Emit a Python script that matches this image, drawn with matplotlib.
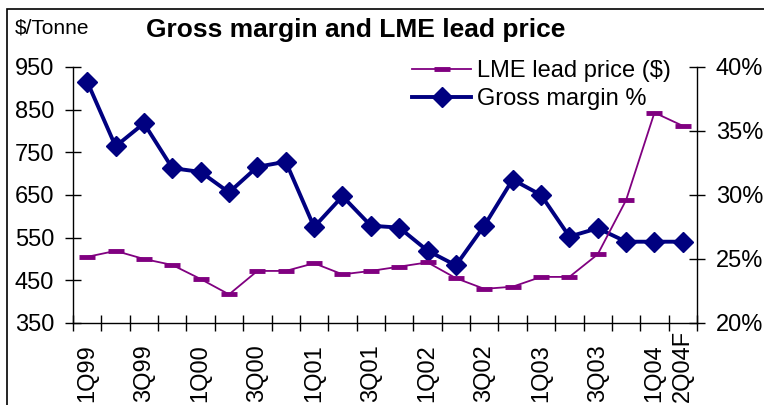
import matplotlib.pyplot as plt
from matplotlib.lines import Line2D
from matplotlib.patches import Rectangle

plt.rcParams['font.family'] = ['Liberation Sans', 'DejaVu Sans']

quarters = ["1Q99", "2Q99", "3Q99", "4Q99", "1Q00", "2Q00", "3Q00", "4Q00",
            "1Q01", "2Q01", "3Q01", "4Q01", "1Q02", "2Q02", "3Q02", "4Q02",
            "1Q03", "2Q03", "3Q03", "4Q03", "1Q04", "2Q04F"]
lead_price = [505, 519, 500, 486, 453, 417, 472, 472,
              490, 464, 472, 482, 492, 455, 430, 435,
              458, 458, 511, 638, 843, 812]
gross_margin = [38.85, 33.8, 35.6, 32.1, 31.8, 30.2, 32.2, 32.6,
                27.5, 29.9, 27.6, 27.45, 25.65, 24.5, 27.6, 31.2,
                30.0, 26.75, 27.4, 26.35, 26.35, 26.35]
shown_labels = ["1Q99", "3Q99", "1Q00", "3Q00", "1Q01", "3Q01", "1Q02",
                "3Q02", "1Q03", "3Q03", "1Q04", "2Q04F"]

PURPLE = "#800080"
NAVY = "#000080"

fig = plt.figure(figsize=(7.64, 4.05), dpi=100)
ax = fig.add_axes([0.0956, 0.2025, 0.8167, 0.6321])
ax2 = ax.twinx()
# price line drawn over the margin line
ax.set_zorder(2)
ax2.set_zorder(1)
ax.patch.set_visible(False)

x = list(range(len(quarters)))

ax.plot(x, lead_price, color=PURPLE, lw=1.3, marker="_", ms=12, mew=3.5)
ax2.plot(x, gross_margin, color=NAVY, lw=2.8, marker="D", ms=10.5,
         mec=NAVY, mfc=NAVY, clip_on=False)

ax.set_xlim(-0.5, len(quarters) - 0.5)
ax.set_ylim(350, 950)
ax.set_yticks(range(350, 951, 100))
ax2.set_ylim(20, 40)
ax2.set_yticks([20, 25, 30, 35, 40])
ax2.set_yticklabels([f"{v}%" for v in [20, 25, 30, 35, 40]])

ax.set_xticks([i - 0.5 for i in range(len(quarters) + 1)])
ax.set_xticklabels([])

for a in (ax, ax2):
    for s in a.spines.values():
        s.set_visible(False)
ax.spines["left"].set_visible(True)
ax.spines["bottom"].set_visible(True)
ax2.spines["right"].set_visible(True)
for s in (ax.spines["left"], ax.spines["bottom"], ax2.spines["right"]):
    s.set_linewidth(1.0)

ax.tick_params(axis="y", direction="inout", length=11, width=1.0,
               labelsize=17, pad=8)
ax.tick_params(axis="x", direction="inout", length=12, width=1.0)
ax2.tick_params(axis="y", direction="inout", length=11, width=1.0,
                labelsize=17, pad=8)

for q in shown_labels:
    i = quarters.index(q)
    fig.text((73 + (i + 0.5) * 28.36) / 764, 0.008, q, rotation=90,
             ha="center", va="bottom", fontsize=17)

handles = [Line2D([], [], color=PURPLE, lw=1.3, marker="_", ms=12, mew=3.5),
           Line2D([], [], color=NAVY, lw=2.8, marker="D", ms=10.5)]
ax.legend(handles, ["LME lead price ($)", "Gross margin %"],
          loc="upper left", bbox_to_anchor=(412 / 764, 1 - 60 / 405),
          bbox_transform=fig.transFigure, frameon=False, fontsize=17,
          handlelength=2.5, handletextpad=0.25, labelspacing=0.25,
          borderpad=0, borderaxespad=0)

fig.text(356 / 764, 1 - 30 / 405, "Gross margin and LME lead price",
         ha="center", va="center", fontsize=19, fontweight="bold")
fig.text(15 / 764, 1 - 28 / 405, "$/Tonne", ha="left", va="center",
         fontsize=15)

fig.patches.append(Rectangle((7 / 764, -0.1), 1.2, 1 - 9 / 405 + 0.1,
                             transform=fig.transFigure, fill=False,
                             edgecolor="black", lw=1.2))

fig.savefig("out.png", dpi=100)
